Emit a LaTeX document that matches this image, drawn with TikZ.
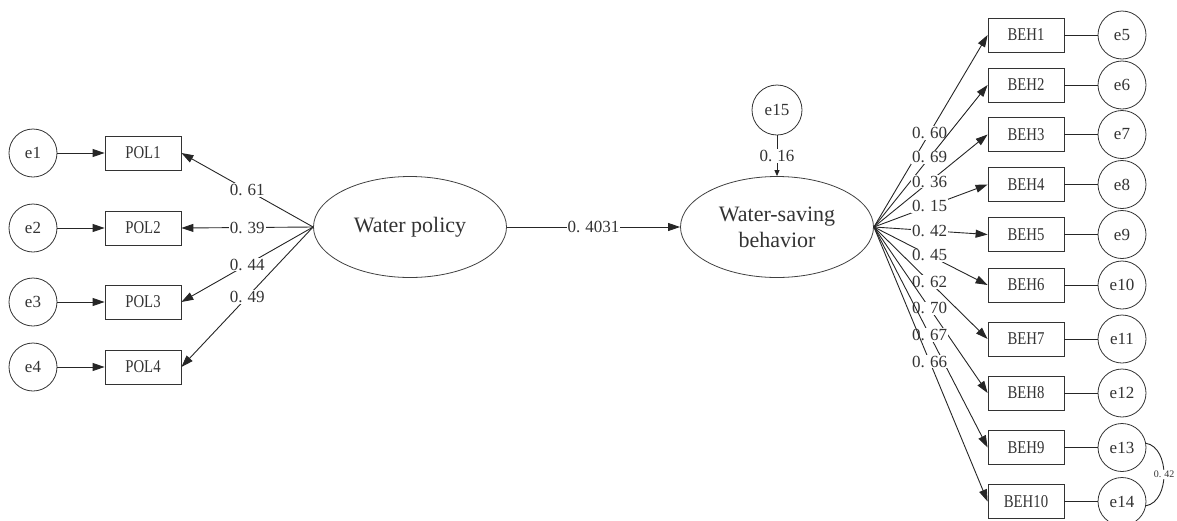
\documentclass[tikz,border=0pt]{standalone}
\usepackage{fontspec}
\setmainfont{Liberation Serif}
\newfontfamily\narrowserif[FakeStretch=0.82]{Liberation Serif}
\usetikzlibrary{arrows.meta,shapes.geometric}
\newcommand\cfv[1]{0.\hspace{0.3em}#1}
\tikzset{
  ink/.style={draw=black!85, line width=0.9pt},
  err/.style={circle, draw=black!80, line width=0.8pt, minimum size=48pt, inner sep=0pt, font=\fontsize{17}{17}\selectfont, text=black!80},
  obs/.style={rectangle, draw=black!80, line width=0.8pt, minimum width=76pt, minimum height=34pt, inner sep=0pt, font=\narrowserif\fontsize{18}{18}\selectfont, text=black!80},
  latent/.style={ellipse, draw=black!75, line width=0.8pt, minimum width=193pt, minimum height=101pt, inner sep=0pt, font=\fontsize{22}{26}\selectfont, text=black!80, align=center},
  coef/.style={fill=white, inner sep=1pt, font=\fontsize{17}{17}\selectfont, text=black!80},
  tip/.style={-{Triangle[length=12pt,width=8pt]}},
  smalltip/.style={-{Triangle[length=6pt,width=5pt]}}
}
\begin{document}
\begin{tikzpicture}[x=1pt,y=-1pt]
\useasboundingbox (0,0) rectangle (1177,520);

% latent variables
\node[latent] (wp) at (410,227) {Water policy};
\node[latent] (wsb) at (777,227) {Water-saving\\behavior};
\node[err, minimum size=50pt] (e15) at (777,110) {e15};

% policy indicators with their error terms
\foreach \i/\y in {1/153,2/228,3/302,4/367}{
  \node[err] (e\i) at (33,\y) {e\i};
  \node[obs] (pol\i) at (143,\y) {POL\i};
  \draw[ink, tip] (e\i) -- (pol\i);
}

% loadings of water policy
\foreach \i/\v in {1/61,2/39,3/44,4/49}{
  \draw[ink, tip] (wp.west) -- node[coef, pos=0.5] {\cfv{\v}} (pol\i.east);
}

% structural path
\draw[ink, tip] (wp.east) -- node[coef] {\cfv{4031}} (wsb.west);
\draw[ink, smalltip] (e15.south) -- node[coef] {\cfv{16}} (wsb.north);

% behaviour indicators with their error terms
\foreach \i/\y/\e in {1/35/5,2/85/6,3/134.5/7,4/184.5/8,5/234.5/9,6/285/10,7/339/11,8/393/12,9/447.5/13,10/501.5/14}{
  \node[obs] (beh\i) at (1026,\y) {BEH\i};
  \node[err] (e\e) at (1122,\y) {e\e};
  \draw[ink] (beh\i) -- (e\e);
}

% loadings of water-saving behaviour
\foreach \i/\v in {1/60,2/69,3/36,4/15,5/42,6/45,7/62,8/70,9/67,10/66}{
  \draw[ink, tip] (wsb.east) -- node[coef, pos=0.49] {\cfv{\v}} (beh\i.west);
}

% correlated errors
\draw[ink] (e13.10) to[out=-10,in=10] node[fill=white, inner sep=1pt, font=\fontsize{10}{10}\selectfont, text=black!80] {\cfv{42}} (e14.-10);
\end{tikzpicture}
\end{document}
